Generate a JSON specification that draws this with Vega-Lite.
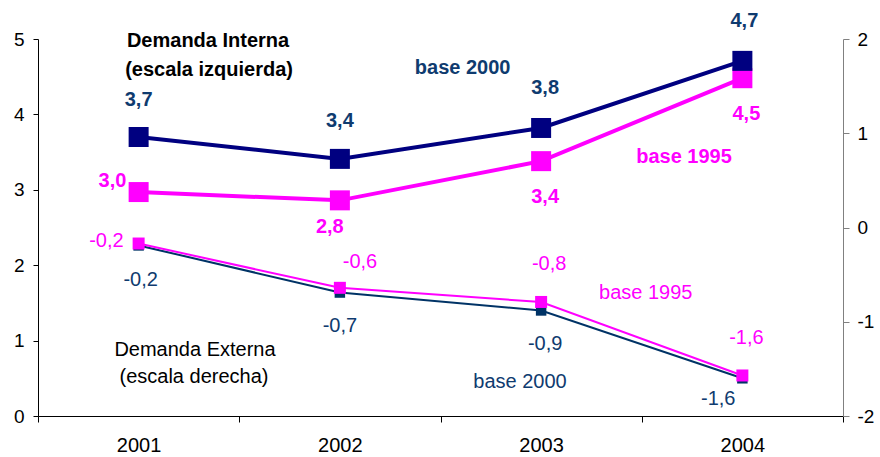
{
  "$schema": "https://vega.github.io/schema/vega-lite/v6.json",
  "width": 805,
  "height": 377,
  "autosize": {"type": "none"},
  "padding": {"left": 38, "top": 39, "right": 37, "bottom": 41},
  "background": "white",
  "config": {
    "view": {"stroke": null},
    "font": "Liberation Sans",
    "axis": {"grid": false, "labelFont": "Liberation Sans", "labelFontSize": 19, "labelColor": "#000000", "title": null, "domainWidth": 1, "tickWidth": 1}
  },
  "datasets": {
    "series": [
      {"year": 2001, "value": 3.70, "series": "DI 2000"},
      {"year": 2002, "value": 3.41, "series": "DI 2000"},
      {"year": 2003, "value": 3.82, "series": "DI 2000"},
      {"year": 2004, "value": 4.71, "series": "DI 2000"},
      {"year": 2001, "value": 2.97, "series": "DI 1995"},
      {"year": 2002, "value": 2.86, "series": "DI 1995"},
      {"year": 2003, "value": 3.38, "series": "DI 1995"},
      {"year": 2004, "value": 4.48, "series": "DI 1995"},
      {"year": 2001, "value": -0.19, "series": "DE 2000"},
      {"year": 2002, "value": -0.69, "series": "DE 2000"},
      {"year": 2003, "value": -0.88, "series": "DE 2000"},
      {"year": 2004, "value": -1.60, "series": "DE 2000"},
      {"year": 2001, "value": -0.17, "series": "DE 1995"},
      {"year": 2002, "value": -0.64, "series": "DE 1995"},
      {"year": 2003, "value": -0.79, "series": "DE 1995"},
      {"year": 2004, "value": -1.57, "series": "DE 1995"}
    ],
    "labelsL": [
      {"year": 2001.0, "value": 4.19, "text": "3,7", "series": "t2000"},
      {"year": 2002.0, "value": 3.91, "text": "3,4", "series": "t2000"},
      {"year": 2003.02, "value": 4.35, "text": "3,8", "series": "t2000"},
      {"year": 2004.01, "value": 5.24, "text": "4,7", "series": "t2000"},
      {"year": 2000.87, "value": 3.12, "text": "3,0", "series": "t1995"},
      {"year": 2001.95, "value": 2.51, "text": "2,8", "series": "t1995"},
      {"year": 2003.02, "value": 2.90, "text": "3,4", "series": "t1995"},
      {"year": 2004.02, "value": 4.01, "text": "4,5", "series": "t1995"},
      {"year": 2002.61, "value": 4.62, "text": "base 2000", "series": "t2000"},
      {"year": 2003.71, "value": 3.43, "text": "base 1995", "series": "t1995"},
      {"year": 2001.345, "value": 4.97, "text": "Demanda Interna", "series": "tblack"},
      {"year": 2001.35, "value": 4.59, "text": "(escala izquierda)", "series": "tblack"}
    ],
    "labelsR": [
      {"year": 2000.84, "value": -0.14, "text": "-0,2", "series": "t1995"},
      {"year": 2002.1, "value": -0.37, "text": "-0,6", "series": "t1995"},
      {"year": 2003.04, "value": -0.39, "text": "-0,8", "series": "t1995"},
      {"year": 2004.02, "value": -1.17, "text": "-1,6", "series": "t1995"},
      {"year": 2001.01, "value": -0.56, "text": "-0,2", "series": "t2000"},
      {"year": 2002.0, "value": -1.05, "text": "-0,7", "series": "t2000"},
      {"year": 2003.02, "value": -1.24, "text": "-0,9", "series": "t2000"},
      {"year": 2003.88, "value": -1.82, "text": "-1,6", "series": "t2000"},
      {"year": 2003.52, "value": -0.70, "text": "base 1995", "series": "t1995"},
      {"year": 2002.895, "value": -1.64, "text": "base 2000", "series": "t2000"},
      {"year": 2001.28, "value": -1.30, "text": "Demanda Externa", "series": "tblack"},
      {"year": 2001.275, "value": -1.59, "text": "(escala derecha)", "series": "tblack"}
    ]
  },
  "encoding": {
    "x": {
      "field": "year",
      "type": "quantitative",
      "scale": {"domain": [2000.5, 2004.5], "nice": false, "zero": false},
      "axis": {
        "orient": "bottom",
        "values": [2000.5, 2001.5, 2002.5, 2003.5, 2004.5],
        "labelExpr": "datum.value < 2004 ? format(datum.value + 0.5, 'd') : ''",
        "labelOffset": 100.6,
        "labelFlush": false,
        "labelOverlap": false,
        "labelBound": false,
        "labelFontSize": 20,
        "tickSize": 6,
        "labelPadding": 13,
        "domainColor": "#000000",
        "tickColor": "#000000"
      }
    },
    "color": {
      "field": "series",
      "type": "nominal",
      "legend": null,
      "scale": {
        "domain": ["DI 2000", "DI 1995", "DE 2000", "DE 1995", "t2000", "t1995", "tblack"],
        "range": ["#000080", "#FF00FF", "#003366", "#FF00FF", "#0F3B6F", "#FF00FF", "#000000"]
      }
    }
  },
  "layer": [
    {
      "encoding": {
        "y": {
          "field": "value",
          "type": "quantitative",
          "scale": {"domain": [0, 5], "nice": false, "zero": false},
          "axis": {"orient": "left", "values": [0, 1, 2, 3, 4, 5], "tickSize": 5, "labelPadding": 9, "domainColor": "#000000", "tickColor": "#000000"}
        }
      },
      "layer": [
        {"data": {"name": "series"}, "transform": [{"filter": "datum.series == 'DI 1995'"}], "mark": {"type": "line", "strokeWidth": 4}},
        {"data": {"name": "series"}, "transform": [{"filter": "datum.series == 'DI 1995'"}], "mark": {"type": "point", "shape": "square", "filled": true, "opacity": 1, "size": 400}},
        {"data": {"name": "series"}, "transform": [{"filter": "datum.series == 'DI 2000'"}], "mark": {"type": "line", "strokeWidth": 4}},
        {"data": {"name": "series"}, "transform": [{"filter": "datum.series == 'DI 2000'"}], "mark": {"type": "point", "shape": "square", "filled": true, "opacity": 1, "size": 400}},
        {"data": {"name": "labelsL"}, "mark": {"type": "text", "align": "center", "baseline": "middle", "fontSize": 20, "fontWeight": "bold", "font": "Liberation Sans"}, "encoding": {"text": {"field": "text", "type": "nominal"}}}
      ]
    },
    {
      "encoding": {
        "y": {
          "field": "value",
          "type": "quantitative",
          "scale": {"domain": [-2, 2], "nice": false, "zero": false},
          "axis": {"orient": "right", "values": [-2, -1, 0, 1, 2], "labelExpr": "datum.value + ''", "tickSize": 6, "labelPadding": 8, "domainColor": "#808080", "tickColor": "#808080"}
        }
      },
      "layer": [
        {"data": {"name": "series"}, "transform": [{"filter": "datum.series == 'DE 2000'"}], "mark": {"type": "line", "strokeWidth": 2}},
        {"data": {"name": "series"}, "transform": [{"filter": "datum.series == 'DE 2000'"}], "mark": {"type": "point", "shape": "square", "filled": true, "opacity": 1, "size": 110}},
        {"data": {"name": "series"}, "transform": [{"filter": "datum.series == 'DE 1995'"}], "mark": {"type": "line", "strokeWidth": 2}},
        {"data": {"name": "series"}, "transform": [{"filter": "datum.series == 'DE 1995'"}], "mark": {"type": "point", "shape": "square", "filled": true, "opacity": 1, "size": 144}},
        {"data": {"name": "labelsR"}, "mark": {"type": "text", "align": "center", "baseline": "middle", "fontSize": 20, "font": "Liberation Sans"}, "encoding": {"text": {"field": "text", "type": "nominal"}}}
      ]
    }
  ],
  "resolve": {"scale": {"y": "independent"}}
}
